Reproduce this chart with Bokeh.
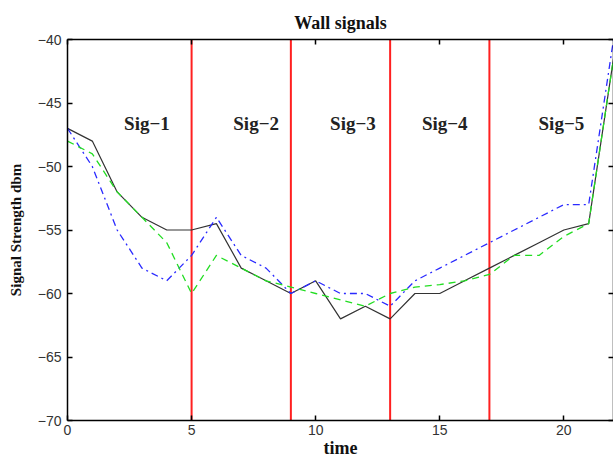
from bokeh.plotting import figure
from bokeh.models import LinearAxis, FixedTicker, ColumnDataSource
from bokeh.core.properties import value
from bokeh.embed import file_html
from bokeh.resources import INLINE

# measurement index
time = list(range(23))

# received signal strength (dBm) of the three wall signals
sig_black = [-47, -48, -52, -54, -55, -55, -54.5, -58, -59, -60, -59, -62, -61, -62,
             -60, -60, -59, -58, -57, -56, -55, -54.5, -41.5]
sig_blue = [-47, -50, -55, -58, -59, -57, -54, -57, -58, -60, -59, -60, -60, -61,
            -59, -58, -57, -56, -55, -54, -53, -53, -40]
sig_green = [-48, -49, -52, -54, -56, -60, -57, -58, -59, -59.5, -60, -60.5, -61, -60,
             -59.5, -59.3, -59, -58.5, -57, -57, -55.5, -54.5, -41.5]

# section boundaries and section names
boundaries = [5, 9, 13, 17]
section_names = ["Sig\u22121", "Sig\u22122", "Sig\u22123", "Sig\u22124", "Sig\u22125"]
section_x = [3.2, 7.6, 11.5, 15.2, 19.9]
section_y = [-46.6] * 5

x_ticks = [0, 5, 10, 15, 20]
y_ticks = [-70, -65, -60, -55, -50, -45, -40]
y_tick_labels = {t: "\u2212" + str(abs(t)) for t in y_ticks}

SERIF = "Liberation Serif"
SANS = "Liberation Sans"

p = figure(width=613, height=460, x_range=(0, 22), y_range=(-70, -40),
           output_backend="svg", toolbar_location=None,
           min_border_left=67, min_border_right=0, min_border_top=39,
           min_border_bottom=40, title="Wall signals")
p.outline_line_color = None
p.grid.visible = False
p.background_fill_color = "white"

p.title.align = "center"
p.title.text_font = SERIF
p.title.text_font_style = "bold"
p.title.text_font_size = "18px"
p.title.text_color = "#111111"
p.title.standoff = 13

for ax in (p.xaxis[0], p.yaxis[0]):
    ax.axis_line_color = "black"
    ax.axis_line_width = 1.5
    ax.major_tick_in = 5
    ax.major_tick_out = 0
    ax.minor_tick_line_color = None
    ax.major_tick_line_color = "black"
    ax.major_tick_line_width = 1.5
    ax.major_label_text_font = SANS
    ax.major_label_text_font_size = "14px"
    ax.major_label_text_color = "#333333"
    ax.axis_label_text_font = SERIF
    ax.axis_label_text_font_style = "bold"
    ax.axis_label_text_color = "#111111"

p.xaxis[0].ticker = FixedTicker(ticks=x_ticks)
p.yaxis[0].ticker = FixedTicker(ticks=y_ticks)
p.yaxis[0].major_label_overrides = y_tick_labels
p.xaxis[0].axis_label = "time"
p.xaxis[0].axis_label_text_font_size = "18px"
p.xaxis[0].major_label_standoff = 4
p.xaxis[0].axis_label_standoff = 0
p.yaxis[0].axis_label = "Signal Strength dbm"
p.yaxis[0].axis_label_text_font_size = "15px"
p.yaxis[0].major_label_standoff = 6
p.yaxis[0].axis_label_standoff = 11

# mirrored top and right axes carrying inward ticks only
top = LinearAxis(ticker=FixedTicker(ticks=x_ticks), major_label_text_color=None,
                 major_label_text_font_size="1px", major_label_standoff=0,
                 major_tick_in=5, major_tick_out=0, minor_tick_line_color=None,
                 axis_line_width=1.5, major_tick_line_width=1.5)
right = LinearAxis(ticker=FixedTicker(ticks=y_ticks), major_label_text_color=None,
                   major_label_text_font_size="1px", major_label_standoff=0,
                   major_tick_in=5, major_tick_out=0, minor_tick_line_color=None,
                   axis_line_width=1.5, major_tick_line_width=1.5)
p.add_layout(top, "above")
p.add_layout(right, "right")

# section boundaries
p.segment(x0=boundaries, y0=[-70] * len(boundaries), x1=boundaries, y1=[-40] * len(boundaries),
          line_color="#ff2020", line_width=2)

p.line(time, sig_black, line_color="#333333", line_width=1.2)
p.line(time, sig_blue, line_color="#2a2aff", line_width=1.3, line_dash="7 4 2 4")
p.line(time, sig_green, line_color="#22dd22", line_width=1.3, line_dash="7 5")

src = ColumnDataSource(dict(x=section_x, y=section_y, t=section_names))
p.text(x="x", y="y", text="t", source=src, text_align="center", text_baseline="middle",
       text_font=value(SERIF), text_font_style="bold", text_font_size="19px",
       text_color="#222222")

open("out.html", "w").write(file_html(p, INLINE))
